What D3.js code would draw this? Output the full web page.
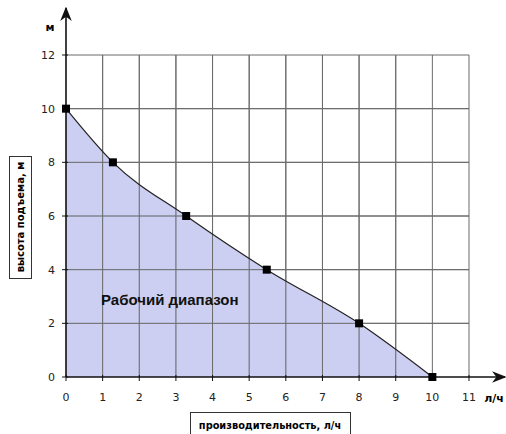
<!DOCTYPE html>
<html>
<head>
<script src="https://d3js.org/d3.v7.min.js"></script>
<style>
  body { margin: 0; background: #fff; }
  text { font-family: Verdana, "DejaVu Sans", sans-serif; }
  .grid line { stroke: #6b6b6b; stroke-width: 1px; }
  .tick-label { font-size: 11px; fill: #222; }
</style>
</head>
<body>
<script>
  // pump curve data
  var flow = [0, 1.28, 3.28, 5.48, 8, 10];
  var head = [10, 8, 6, 4, 2, 0];
  var xTicks = [0, 1, 2, 3, 4, 5, 6, 7, 8, 9, 10, 11];
  var yTicks = [0, 2, 4, 6, 8, 10, 12];

  var W = 506, H = 434;
  var svg = d3.select("body").append("svg")
      .attr("width", W).attr("height", H);

  var x = d3.scaleLinear().domain([0, 11]).range([66, 469]);
  var y = d3.scaleLinear().domain([0, 12]).range([377, 55]);

  var pts = flow.map(function(d, i) { return [d, head[i]]; });

  // grid
  var grid = svg.append("g").attr("class", "grid");
  grid.selectAll(".v").data(xTicks.slice(1)).enter().append("line")
      .attr("x1", function(d) { return x(d); }).attr("x2", function(d) { return x(d); })
      .attr("y1", y(0)).attr("y2", y(12));
  grid.selectAll(".h").data(yTicks.slice(1)).enter().append("line")
      .attr("x1", x(0)).attr("x2", x(11))
      .attr("y1", function(d) { return y(d); }).attr("y2", function(d) { return y(d); });

  // filled working range
  var area = d3.area()
      .x(function(d) { return x(d[0]); })
      .y0(y(0))
      .y1(function(d) { return y(d[1]); })
      .curve(d3.curveMonotoneX);
  svg.append("path").attr("d", area(pts))
      .attr("fill", "#c3c7ee").attr("fill-opacity", 0.85);

  // redraw grid over fill lightly so lines show through
  var grid2 = svg.append("g").attr("class", "grid");
  grid2.selectAll("line").data(xTicks.slice(1, 10)).enter().append("line")
      .attr("x1", function(d) { return x(d); }).attr("x2", function(d) { return x(d); })
      .attr("y1", y(0)).attr("y2", y(12));
  grid2.selectAll(".h").data(yTicks.slice(1, 6)).enter().append("line")
      .attr("x1", x(0)).attr("x2", x(11))
      .attr("y1", function(d) { return y(d); }).attr("y2", function(d) { return y(d); });

  var line = d3.line()
      .x(function(d) { return x(d[0]); })
      .y(function(d) { return y(d[1]); })
      .curve(d3.curveMonotoneX);
  svg.append("path").attr("d", line(pts))
      .attr("fill", "none").attr("stroke", "#222").attr("stroke-width", 1.2);

  // axes with arrows
  svg.append("defs").append("marker")
      .attr("id", "arr").attr("viewBox", "0 0 10 10")
      .attr("refX", 9).attr("refY", 5)
      .attr("markerWidth", 9).attr("markerHeight", 9)
      .attr("orient", "auto")
    .append("path").attr("d", "M0,1 L10,5 L0,9 L3,5 Z").attr("fill", "#111");

  svg.append("line").attr("x1", x(0)).attr("x2", x(0))
      .attr("y1", y(0)).attr("y2", 8)
      .attr("stroke", "#111").attr("stroke-width", 1.6).attr("marker-end", "url(#arr)");
  svg.append("line").attr("x1", x(0)).attr("x2", 505)
      .attr("y1", y(0)).attr("y2", y(0))
      .attr("stroke", "#111").attr("stroke-width", 1.6).attr("marker-end", "url(#arr)");

  // ticks
  svg.selectAll(".xt").data(xTicks).enter().append("line")
      .attr("x1", function(d) { return x(d); }).attr("x2", function(d) { return x(d); })
      .attr("y1", y(0) - 2).attr("y2", y(0) + 4)
      .attr("stroke", "#111");
  svg.selectAll(".yt").data(yTicks).enter().append("line")
      .attr("x1", x(0) - 4).attr("x2", x(0) + 2)
      .attr("y1", function(d) { return y(d); }).attr("y2", function(d) { return y(d); })
      .attr("stroke", "#111");

  svg.selectAll(".xl").data(xTicks).enter().append("text")
      .attr("class", "tick-label")
      .attr("x", function(d) { return x(d); }).attr("y", 401)
      .attr("text-anchor", "middle").text(function(d) { return d; });
  svg.selectAll(".yl").data(yTicks).enter().append("text")
      .attr("class", "tick-label")
      .attr("x", 55).attr("y", function(d) { return y(d) + 4; })
      .attr("text-anchor", "end").text(function(d) { return d; });

  // markers
  svg.selectAll(".pt").data(pts).enter().append("rect")
      .attr("x", function(d) { return x(d[0]) - 4; })
      .attr("y", function(d) { return y(d[1]) - 4; })
      .attr("width", 8).attr("height", 8).attr("fill", "#000");

  // units
  svg.append("text").attr("x", 50).attr("y", 31).attr("text-anchor", "middle")
      .attr("font-size", 11).attr("font-weight", "bold").text("м");
  svg.append("text").attr("x", 494).attr("y", 402).attr("text-anchor", "middle")
      .attr("font-size", 11).attr("font-weight", "bold").text("л/ч");

  // region label
  svg.append("text").attr("x", 101).attr("y", 305)
      .attr("font-size", 15).attr("font-weight", "bold").attr("fill", "#111")
      .style("font-family", "Arial, 'Liberation Sans', sans-serif")
      .text("Рабочий диапазон");

  // axis title boxes
  svg.append("rect").attr("x", 9.5).attr("y", 156.5).attr("width", 22).attr("height", 122)
      .attr("fill", "#fff").attr("stroke", "#333");
  svg.append("text").attr("transform", "translate(24," + 217 + ") rotate(-90)")
      .attr("text-anchor", "middle").attr("font-size", 10).attr("font-weight", "bold")
      .text("высота подъема, м");

  svg.append("rect").attr("x", 190.5).attr("y", 412.5).attr("width", 160).attr("height", 26)
      .attr("fill", "#fff").attr("stroke", "#333");
  svg.append("text").attr("x", 270).attr("y", 429)
      .attr("text-anchor", "middle").attr("font-size", 9.8).attr("font-weight", "bold")
      .text("производительность, л/ч");
</script>
</body>
</html>
